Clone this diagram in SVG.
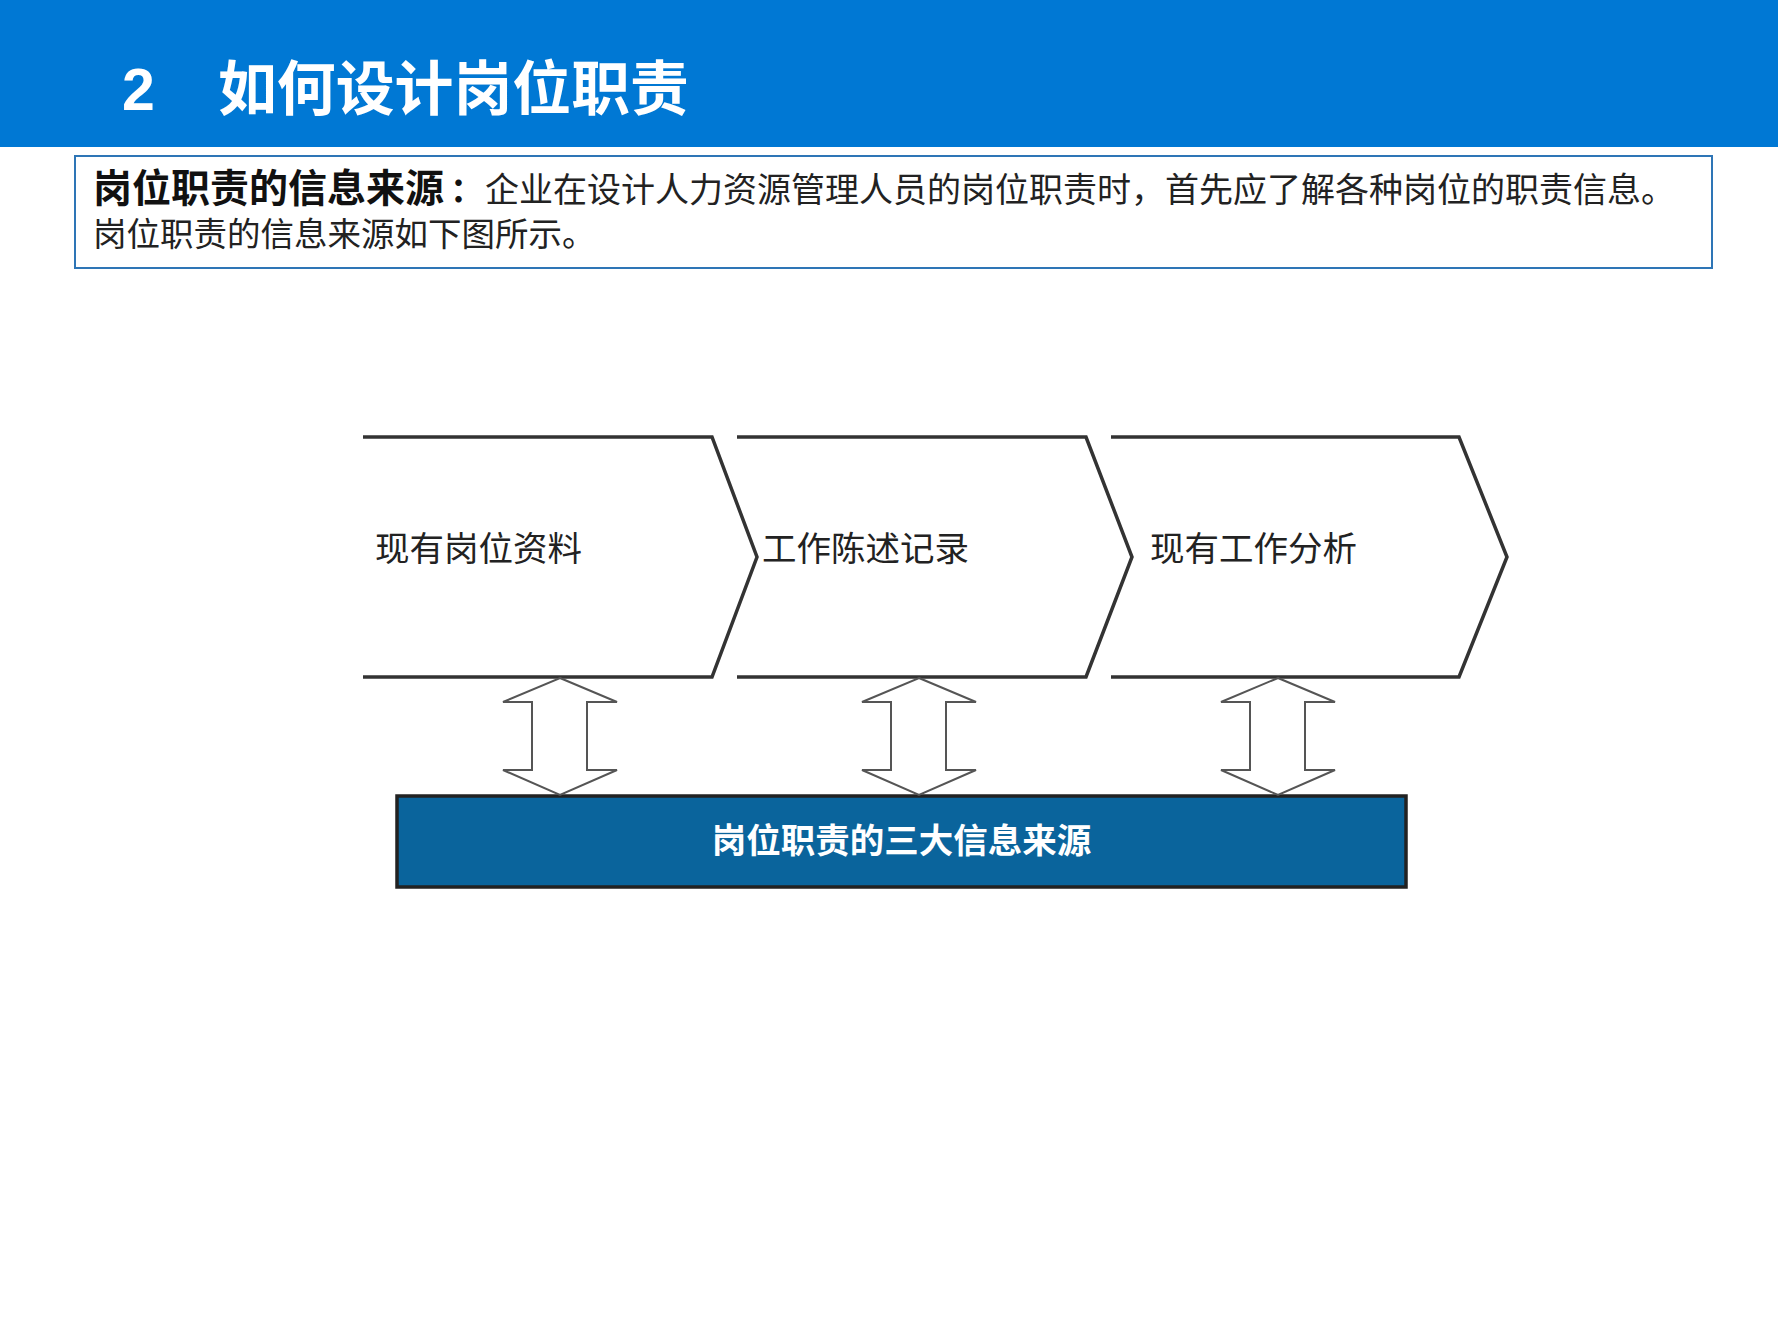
<svg xmlns="http://www.w3.org/2000/svg" width="1778" height="1333" viewBox="0 0 1778 1333">
<defs>
<style>
.cjk{font-family:"Liberation Sans","Noto Sans CJK SC",sans-serif;}
.chev{fill:none;stroke:#333333;stroke-width:3.5;stroke-linejoin:miter;}
.arr{fill:#ffffff;stroke:#555555;stroke-width:2;stroke-linejoin:miter;}
.lbl{font-size:34.5px;fill:#222222;}
</style>
</defs>
<rect x="0" y="0" width="1778" height="1333" fill="#ffffff"/>
<g id="header">
<rect x="0" y="0" width="1778" height="147" fill="#0078D4"/>
<text class="cjk" x="122" y="110" font-size="59" font-weight="bold" fill="#ffffff">2</text>
<text class="cjk" x="218" y="110" font-size="59" font-weight="bold" fill="#ffffff" textLength="471" lengthAdjust="spacingAndGlyphs">如何设计岗位职责</text>
</g>
<g id="intro">
<rect x="75" y="156" width="1637" height="112" fill="#ffffff" stroke="#2E75B6" stroke-width="2"/>
<text class="cjk" y="202" fill="#222222"><tspan x="93" font-size="39" font-weight="bold" fill="#111111">岗位职责的信息来源</tspan><tspan x="450" font-size="34" font-weight="bold" fill="#111111">：</tspan><tspan x="485" font-size="34">企业在设计人力资源管理人员的岗位职责时，首先应了解各种岗位的职责信息。</tspan></text>
<text class="cjk" x="93" y="246" font-size="33.5" fill="#222222">岗位职责的信息来源如下图所示。</text>
</g>
<g id="node-1">
<path class="chev" d="M363 437 L712 437 L757 557 L712 677 L363 677"/>
<text class="cjk lbl" x="375" y="561">现有岗位资料</text>
</g>
<g id="node-2">
<path class="chev" d="M737 437 L1086 437 L1132 557 L1086 677 L737 677"/>
<text class="cjk lbl" x="762" y="561">工作陈述记录</text>
</g>
<g id="node-3">
<path class="chev" d="M1111 437 L1459 437 L1507 557 L1459 677 L1111 677"/>
<text class="cjk lbl" x="1150" y="561">现有工作分析</text>
</g>
<g id="node-base">
<rect x="397" y="796" width="1009" height="91" fill="#0A649C" stroke="#222222" stroke-width="3.5"/>
<text class="cjk" x="901.5" y="853" font-size="34.5" font-weight="bold" fill="#ffffff" text-anchor="middle">岗位职责的三大信息来源</text>
</g>
<g id="connectors">
<path class="arr" d="M560 678 L617 702 L587 702 L587 770 L617 770 L560 795 L503 770 L532 770 L532 702 L503 702 Z"/>
<path class="arr" d="M919 678 L976 702 L946 702 L946 770 L976 770 L919 795 L862 770 L891 770 L891 702 L862 702 Z"/>
<path class="arr" d="M1278 678 L1335 702 L1305 702 L1305 770 L1335 770 L1278 795 L1221 770 L1250 770 L1250 702 L1221 702 Z"/>
</g>
</svg>
